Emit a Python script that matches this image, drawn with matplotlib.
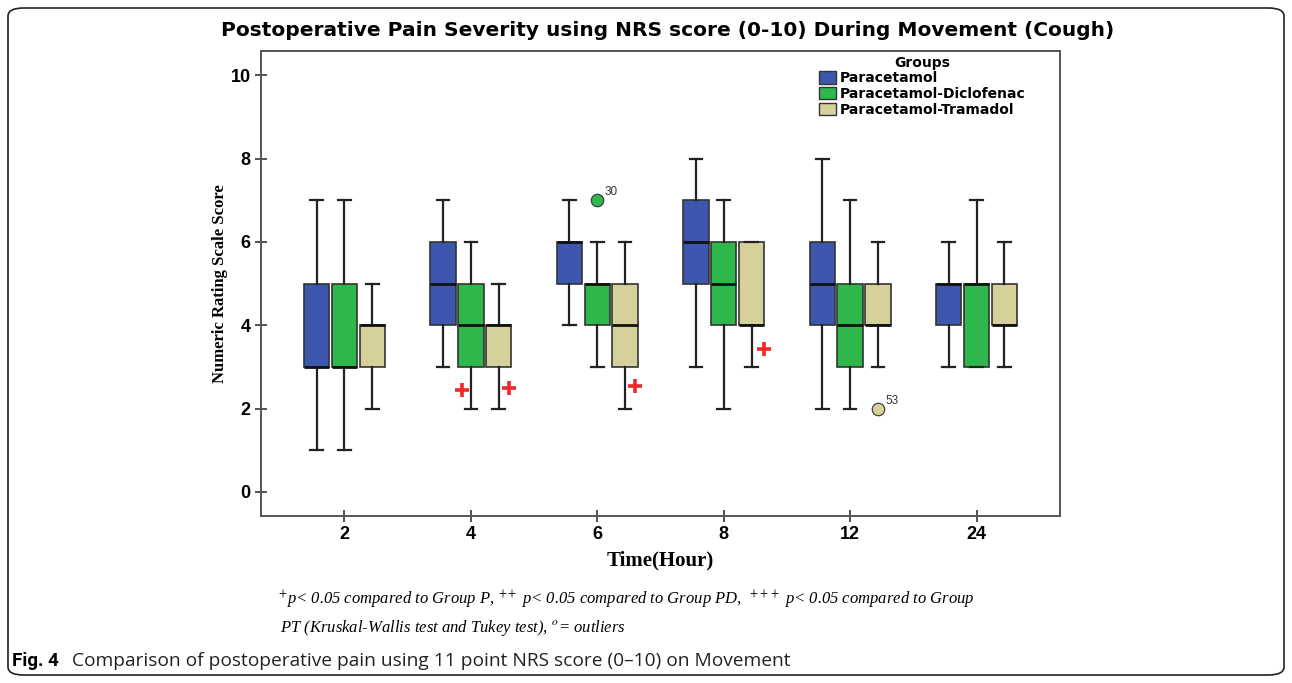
import numpy as np
import matplotlib.pyplot as plt
from matplotlib.patches import FancyBboxPatch, Patch

plt.rcParams['mathtext.fontset'] = 'stix'

# data ###########################################################################################
times = ['2', '4', '6', '8', '12', '24']
groups = ['Paracetamol', 'Paracetamol-Diclofenac', 'Paracetamol-Tramadol']
colors = ['#3E57AE', '#2EB84C', '#D6D09A']

# per group: whisker low, q1, median, q3, whisker high  (one entry per time)
p_lo = [1, 3, 4, 3, 2, 3]
p_q1 = [3, 4, 5, 5, 4, 4]
p_med = [3, 5, 6, 6, 5, 5]
p_q3 = [5, 6, 6, 7, 6, 5]
p_hi = [7, 7, 7, 8, 8, 6]

pd_lo = [1, 2, 3, 2, 2, 3]
pd_q1 = [3, 3, 4, 4, 3, 3]
pd_med = [3, 4, 5, 5, 4, 5]
pd_q3 = [5, 5, 5, 6, 5, 5]
pd_hi = [7, 6, 6, 7, 7, 7]

pt_lo = [2, 2, 2, 3, 3, 3]
pt_q1 = [3, 3, 3, 4, 4, 4]
pt_med = [4, 4, 4, 4, 4, 4]
pt_q3 = [4, 4, 5, 6, 5, 5]
pt_hi = [5, 5, 6, 6, 6, 6]

# outliers: (time index, group index, value, case label)
outliers = [(2, 1, 7, '30'), (4, 2, 2, '53')]

# significance crosses: (time index, x shift from tick, value)
sig_x = [1, 1, 2, 3]
sig_shift = [-0.07, 0.30, 0.30, 0.32]
sig_y = [2.45, 2.5, 2.55, 3.42]

###################################################################################################
def main():
    fig = plt.figure(figsize=(12.92, 6.83), dpi=100)

    # rounded frame round the whole figure
    frame = FancyBboxPatch((8 / 1292, 8 / 683), 1276 / 1292, 667 / 683,
                           boxstyle="round,pad=0,rounding_size=0.012",
                           transform=fig.transFigure, fill=False, ec='#222222', lw=1.2)
    fig.patches.append(frame)

    ax = fig.add_axes([261 / 1292, 1 - 516 / 683, 799 / 1292, 465 / 683])

    all_stats = [
        (p_lo, p_q1, p_med, p_q3, p_hi),
        (pd_lo, pd_q1, pd_med, pd_q3, pd_hi),
        (pt_lo, pt_q1, pt_med, pt_q3, pt_hi),
    ]
    offs = [-0.22, 0.0, 0.22]
    base = np.arange(len(times))

    for g, (lo, q1, med, q3, hi) in enumerate(all_stats):
        stats = []
        for i in range(len(times)):
            stats.append({'whislo': lo[i], 'q1': q1[i], 'med': med[i],
                          'q3': q3[i], 'whishi': hi[i], 'fliers': []})
        ax.bxp(stats, positions=base + offs[g], widths=0.2, patch_artist=True,
               showfliers=False, manage_ticks=False,
               boxprops=dict(facecolor=colors[g], edgecolor='#333333', lw=1.2),
               medianprops=dict(color='#111111', lw=2),
               whiskerprops=dict(color='#222222', lw=1.6),
               capprops=dict(color='#222222', lw=1.6),
               capwidths=0.1)

    for ti, gi, val, lab in outliers:
        xx = ti + offs[gi]
        ax.plot(xx, val, 'o', ms=9, mfc=colors[gi], mec='#333333', mew=0.8)
        ax.text(xx + 0.06, val + 0.12, lab, fontsize=8.5, color='#333333',
                family='Liberation Sans')

    ax.plot(np.array(sig_x) + np.array(sig_shift), sig_y, '+', color='#F02828',
            ms=10, mew=2.6, ls='none')

    ax.set_xlim(-0.66, 5.66)
    ax.set_ylim(-0.58, 10.58)
    ax.set_xticks(base)
    ax.set_xticklabels(times)
    ax.set_yticks([0, 2, 4, 6, 8, 10])
    ax.tick_params(direction='inout', length=9, width=1.2, pad=3, color='#333333')
    for lab in ax.get_xticklabels() + ax.get_yticklabels():
        lab.set_family('Liberation Sans')
        lab.set_fontweight('bold')
        lab.set_fontsize(13)
    for sp in ax.spines.values():
        sp.set_color('#555555')
        sp.set_linewidth(1.4)

    ax.set_ylabel('Numeric Rating Scale Score', family='Liberation Serif',
                  fontweight='bold', fontsize=12, labelpad=2)
    ax.set_xlabel('Time(Hour)', family='Liberation Serif', fontweight='bold',
                  fontsize=15, labelpad=5)

    fig.text(668 / 1292, 1 - 31 / 683,
             'Postoperative Pain Severity using NRS score (0-10) During Movement (Cough)',
             ha='center', va='center', family='DejaVu Sans', fontweight='bold',
             fontsize=14.5)

    handles = [Patch(facecolor=c, edgecolor='#333333') for c in colors]
    leg = ax.legend(handles, groups, title='Groups', loc='upper left',
                    bbox_to_anchor=(0.69, 1.005), frameon=False,
                    prop={'family': 'DejaVu Sans', 'weight': 'bold', 'size': 10},
                    handlelength=1.2, handleheight=1.0, handletextpad=0.3,
                    labelspacing=0.12, borderaxespad=0.1)
    leg.get_title().set_fontweight('bold')
    leg.get_title().set_family('DejaVu Sans')
    leg.get_title().set_fontsize(10)

    # footnote and caption
    fig.text(278 / 1292, 1 - 600 / 683,
             r'$^{+}$p< 0.05 compared to Group P, $^{++}$ p< 0.05 compared to Group PD,  '
             r'$^{+++}$ p< 0.05 compared to Group',
             ha='left', va='center', family='Liberation Serif', style='italic',
             fontsize=12)
    fig.text(280 / 1292, 1 - 628 / 683,
             r'PT (Kruskal-Wallis test and Tukey test), $^{o}$= outliers',
             ha='left', va='center', family='Liberation Serif', style='italic',
             fontsize=12)
    fig.text(12 / 1292, 1 - 661 / 683, 'Fig. 4', ha='left', va='center',
             family='Roboto', fontweight='bold', fontsize=13.5)
    fig.text(72 / 1292, 1 - 661 / 683,
             'Comparison of postoperative pain using 11 point NRS score (0\u201310) on Movement',
             ha='left', va='center', family='Open Sans', fontsize=13.8, color='#222222')

    fig.savefig('out.png', dpi=100)
    return

###################################################################################################
if __name__ == "__main__":
    main()
